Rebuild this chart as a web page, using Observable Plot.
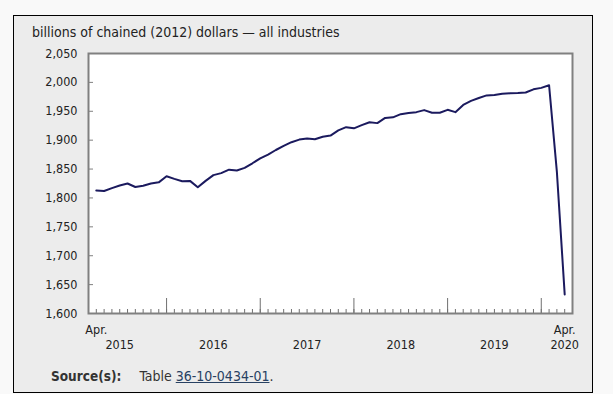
<!DOCTYPE html>
<html><head><meta charset="utf-8">
<script src="https://cdn.jsdelivr.net/npm/d3@7"></script>
<script src="https://cdn.jsdelivr.net/npm/@observablehq/plot@0.6"></script>
<style>
html,body{margin:0;padding:0;background:#f9f9f9;width:613px;height:394px;overflow:hidden;}
body{position:relative;font-family:"DejaVu Sans Condensed","DejaVu Sans",sans-serif;color:#222;}
#box{position:absolute;left:13px;top:15px;width:580px;height:378px;box-sizing:border-box;border:1px solid #000;background:#ececec;}
#title{position:absolute;left:32px;top:24px;font-size:14px;line-height:16px;white-space:nowrap;color:#222;}
#chart{position:absolute;left:14px;top:40px;}
#source{position:absolute;left:51px;top:368px;font-size:14px;line-height:16px;white-space:nowrap;color:#333;}
#source b{font-weight:bold;font-size:13.5px;margin-right:18px;}
#source a{color:#284162;text-decoration:underline;}
</style></head>
<body>
<div id="box"></div>
<div id="title">billions of chained (2012) dollars — all industries</div>
<div id="chart"></div>
<div id="source"><b>Source(s):</b>Table <a href="#">36-10-0434-01</a>.</div>
<script>
const months = [
  "2015-04","2015-05","2015-06","2015-07","2015-08","2015-09","2015-10","2015-11","2015-12",
  "2016-01","2016-02","2016-03","2016-04","2016-05","2016-06","2016-07","2016-08","2016-09","2016-10","2016-11","2016-12",
  "2017-01","2017-02","2017-03","2017-04","2017-05","2017-06","2017-07","2017-08","2017-09","2017-10","2017-11","2017-12",
  "2018-01","2018-02","2018-03","2018-04","2018-05","2018-06","2018-07","2018-08","2018-09","2018-10","2018-11","2018-12",
  "2019-01","2019-02","2019-03","2019-04","2019-05","2019-06","2019-07","2019-08","2019-09","2019-10","2019-11","2019-12",
  "2020-01","2020-02","2020-03","2020-04"
];
const gdp = [
  1813,1812,1817,1821.5,1825,1819,1821,1825,1827,
  1837.5,1833,1829,1829.5,1818.5,1829.5,1839.5,1843,1849,1847.5,1852,1860,
  1868.5,1875,1883,1890,1896.5,1901,1903,1901.5,1906,1908,1917,1922.5,
  1920.5,1926,1931,1929.5,1938.5,1939.5,1945,1947,1948.5,1952,1947.5,1947.5,
  1952.5,1948.5,1961,1968,1973,1977.5,1978,1980.5,1981,1981.5,1982.5,1988,
  1990.5,1995,1845,1633
];
const yTicks = [1600,1650,1700,1750,1800,1850,1900,1950,2000,2050];
const yearTickMonths = ["2016-01","2017-01","2018-01","2019-01","2020-01"];
const aprLabelMonths = ["2015-04","2020-04"];
const aprLabels = ["Apr.","Apr."];
const yearLabelMonths = ["2015-07","2016-07","2017-07","2018-07","2019-07","2020-04"];
const yearLabels = ["2015","2016","2017","2018","2019","2020"];

const series = months.map((m, i) => ({month: m, value: gdp[i]}));
const aprData = aprLabelMonths.map((m, i) => ({month: m, label: aprLabels[i]}));
const yearData = yearLabelMonths.map((m, i) => ({month: m, label: yearLabels[i]}));

const fmt = d3.format(",");
const font = `"DejaVu Sans Condensed","DejaVu Sans",sans-serif`;
const chart = Plot.plot({
  width: 570,
  height: 315,
  marginLeft: 74,
  marginRight: 12,
  marginTop: 13,
  marginBottom: 42,
  style: {background: "transparent", fontFamily: font, fontSize: "12px", color: "#222"},
  x: {type: "point", domain: months, padding: 1, axis: null},
  y: {domain: [1600, 2050], axis: null},
  marks: [
    Plot.frame({fill: "white", stroke: null}),
    Plot.axisY({ticks: yTicks, tickSize: -5, tickPadding: 16, tickFormat: d => fmt(d), stroke: "#808080", fill: "#222", label: null, fontSize: 12.5}),
    Plot.axisX({ticks: months, tickSize: -4, fill: "none", stroke: "#707070", label: null}),
    Plot.axisX({ticks: yearTickMonths, tickSize: -15, fill: "none", stroke: "#707070", label: null}),
    Plot.text(aprData, {x: "month", text: "label", frameAnchor: "bottom", lineAnchor: "top", dy: 12, fill: "#222", fontSize: 12.5}),
    Plot.text(yearData, {x: "month", text: "label", frameAnchor: "bottom", lineAnchor: "top", dy: 27, fill: "#222", fontSize: 12.5}),
    Plot.line(series, {x: "month", y: "value", stroke: "#1b1a5e", strokeWidth: 2, strokeLinejoin: "round"}),
    Plot.frame({stroke: "#808080", strokeWidth: 2})
  ]
});
document.getElementById("chart").appendChild(chart);
</script>
</body></html>
